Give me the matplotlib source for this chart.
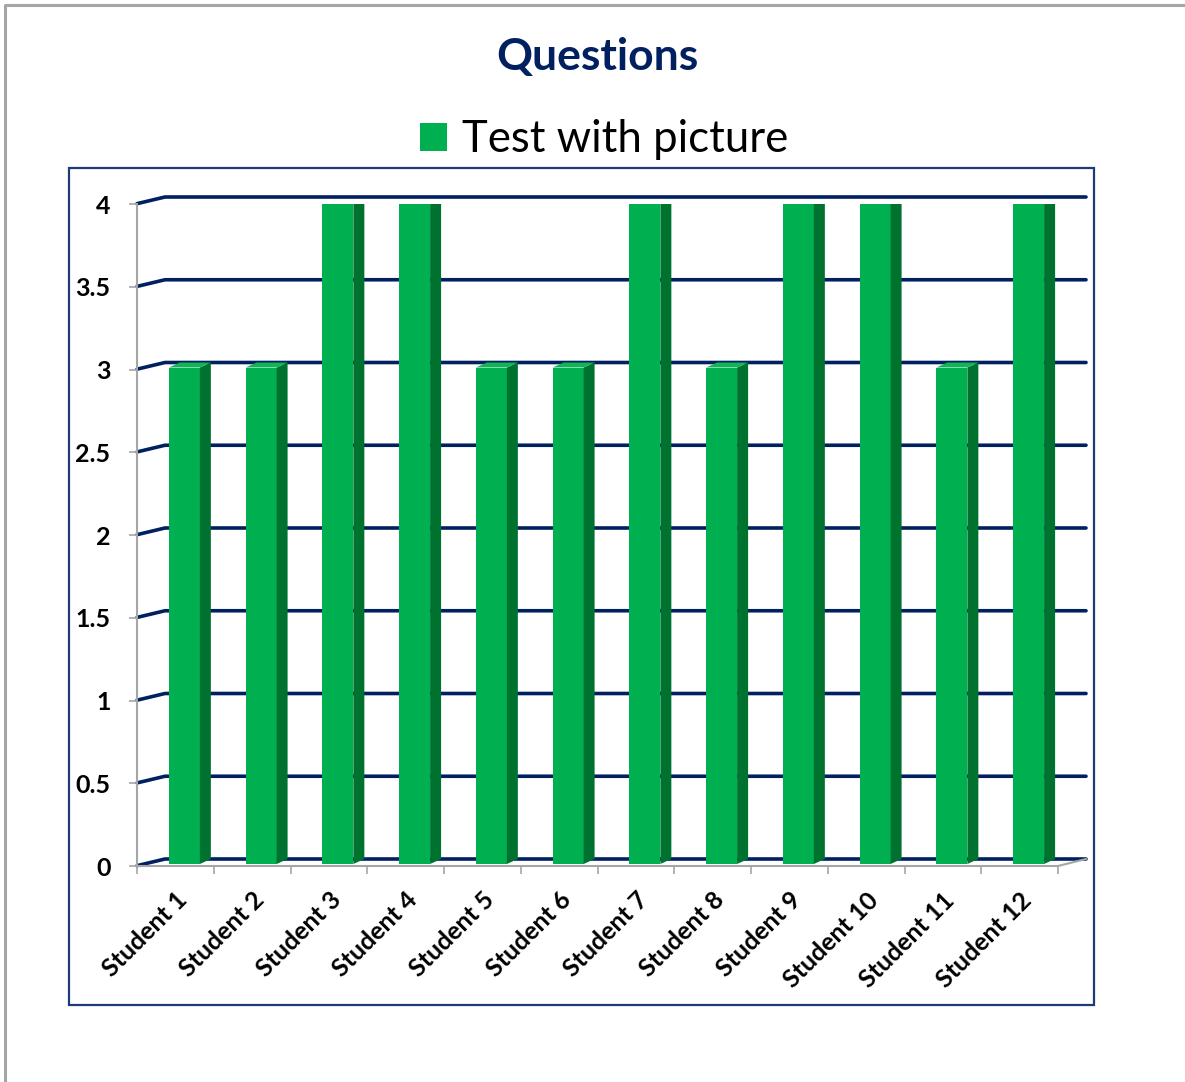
import numpy as np
import matplotlib
matplotlib.use("Agg")
import matplotlib.pyplot as plt
from matplotlib.patches import Polygon, Rectangle, Patch
from matplotlib.lines import Line2D

plt.rcParams['font.family'] = ['Lato', 'DejaVu Sans']

# data
students = ['Student 1', 'Student 2', 'Student 3', 'Student 4', 'Student 5', 'Student 6',
            'Student 7', 'Student 8', 'Student 9', 'Student 10', 'Student 11', 'Student 12']
scores = [3, 3, 4, 4, 3, 3, 4, 3, 4, 4, 3, 4]
y_ticks = [0, 0.5, 1, 1.5, 2, 2.5, 3, 3.5, 4]
y_labels = ['0', '0.5', '1', '1.5', '2', '2.5', '3', '3.5', '4']
series_name = 'Test with picture'

W, H = 1185, 1082
fig = plt.figure(figsize=(W / 100, H / 100), dpi=100)

# outer chart border (only the left/top edge shows in the crop)
fig.add_artist(Line2D([5 / W, 5 / W, 1], [0, 1 - 5 / H, 1 - 5 / H], color='#A6A6A6', lw=2.2,
                      transform=fig.transFigure))
# plot area frame
fig.add_artist(Rectangle((69 / W, 1 - 1005 / H), (1094 - 69) / W, (1005 - 168) / H,
                         fill=False, ec='#1F3A78', lw=1.6, transform=fig.transFigure))

# front axis box: x 137..1058 px, y 866..204 px
ax = fig.add_axes([137 / W, 1 - 866 / H, (1058 - 137) / W, (866 - 204) / H])
n = len(students)
ax.set_xlim(0, n)
ax.set_ylim(0, 4)
ax.patch.set_visible(False)
for s in ax.spines.values():
    s.set_visible(False)

px_x = (1058 - 137) / n   # pixels per category
px_y = (866 - 204) / 4.0  # pixels per unit
back_dx, back_dy = 28 / px_x, 7 / px_y      # back wall shift
side_dx, side_dy = 11 / px_x, 5 / px_y      # bar depth
navy = '#002060'
grey = '#A6A6A6'

# back wall gridlines with the slanted side-wall part
for v in y_ticks:
    ax.plot([0, back_dx, n + back_dx], [v + 0.002, v + back_dy, v + back_dy], color=navy, lw=2.6,
            solid_capstyle='round', clip_on=False, zorder=1)

# front axes (grey)
ax.plot([0, 0], [0, 4], color=grey, lw=1.5, clip_on=False, zorder=2)
ax.plot([0, n, n + back_dx], [0, 0, back_dy], color=grey, lw=1.5, clip_on=False, zorder=2)

ax.set_yticks(y_ticks, y_labels)
ax.set_xticks(np.arange(n) + 0.5, students, rotation=45, ha='right', rotation_mode='anchor')
ax.set_xticks(np.arange(n + 1), minor=True)
ax.tick_params(axis='y', length=6, width=1.2, color=grey, pad=13, labelsize=18)
ax.tick_params(axis='x', which='major', length=0, pad=16, labelsize=18)
ax.tick_params(axis='x', which='minor', length=6, width=1.2, color=grey)
for t in ax.get_xticklabels() + ax.get_yticklabels():
    t.set_fontweight('bold')

# 3D looking columns
front, side, top = '#00B050', '#00722F', '#12B458'
bar_w = 31 / px_x
lift = 2 / px_y
xs = np.arange(n) + 0.415
ax.bar(xs, scores, width=bar_w, bottom=lift, align='edge', color=front, zorder=3)
for x0, v in zip(xs, scores):
    x1 = x0 + bar_w
    ax.add_patch(Polygon([(x1, lift), (x1 + side_dx, lift + side_dy),
                          (x1 + side_dx, v + lift + side_dy), (x1, v + lift)],
                         closed=True, fc=side, ec='none', zorder=3))
    ax.add_patch(Polygon([(x0, v + lift), (x1, v + lift),
                          (x1 + side_dx, v + lift + side_dy), (x0 + side_dx, v + lift + side_dy)],
                         closed=True, fc=top, ec='none', zorder=3))

fig.text(597 / W, 1 - 57 / H, 'Questions', ha='center', va='center', fontsize=32,
         fontweight='bold', color=navy)
fig.legend(handles=[Patch(fc=front, ec='none', label=series_name)], loc='center',
           bbox_to_anchor=(604 / W, 1 - 140 / H), frameon=False, fontsize=31.5,
           handlelength=0.62, handleheight=0.62, handletextpad=0.35)

fig.savefig('out.png', dpi=100)
